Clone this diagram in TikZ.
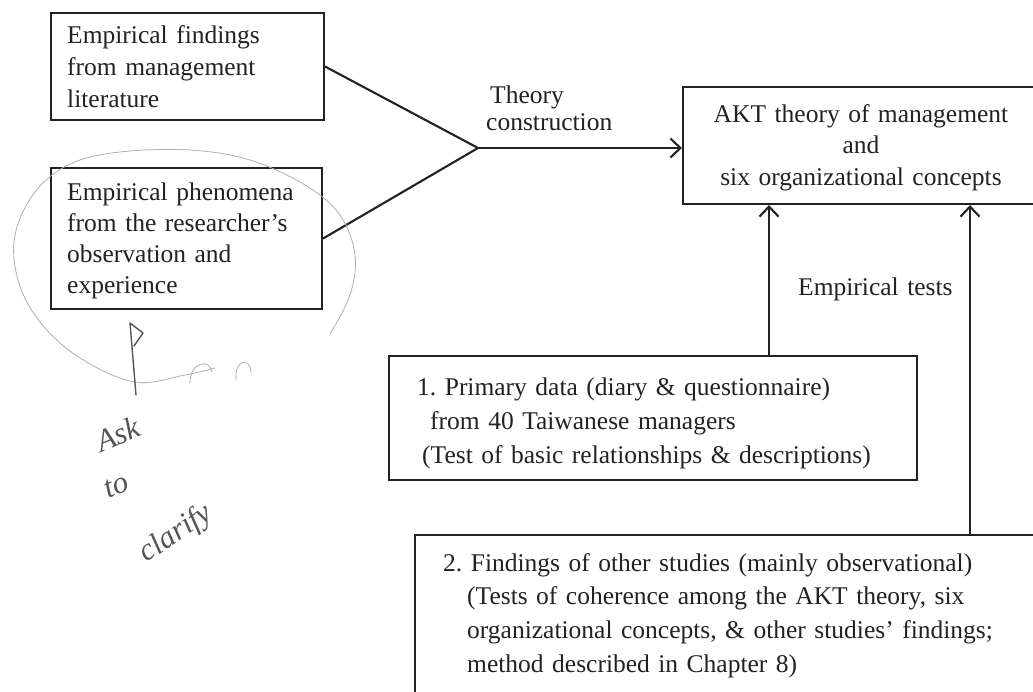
\documentclass[tikz,border=0pt]{standalone}
\usepackage{fontspec}
\setmainfont{Liberation Serif}
\usetikzlibrary{arrows.meta}
\definecolor{ink}{HTML}{222222}
\definecolor{pencil}{HTML}{555555}
\definecolor{pencillight}{HTML}{B0B0B0}
\frenchspacing
\begin{document}
\begin{tikzpicture}[x=1pt,y=-1pt,
  box/.style={draw=ink, line width=2.1pt, rectangle, inner sep=0pt},
  txt/.style={anchor=base west, inner sep=0pt, text=ink, align=left},
  ctxt/.style={anchor=base, inner sep=0pt, text=ink, align=center},
  conn/.style={draw=ink, line width=2.1pt, line join=miter},
  tip/.style={-{Straight Barb[length=10pt,width=19pt,line width=2.1pt]}},
  hand/.style={inner sep=0pt, text=pencil, font=\itshape\fontsize{31}{31}\selectfont},
  pencilline/.style={draw=pencil, line width=1.4pt, line cap=round, line join=round},
  faintline/.style={draw=pencillight, line width=0.8pt, line cap=round}
]
\fill[white] (0,0) rectangle (1033,691);
\clip (0,0) rectangle (1033,691);

% boxes
\node[box, minimum width=273pt, minimum height=107pt] (A) at (187.5,66.5) {};
\node[box, minimum width=271pt, minimum height=141pt] (B) at (186.5,238.5) {};
\node[box, minimum width=356pt, minimum height=117pt] (C) at (861,145.5) {};
\node[box, minimum width=528pt, minimum height=124pt] (P) at (653,418) {};
\node[box, minimum width=630pt, minimum height=190pt] (F) at (730,630) {};

% texts
\node[txt, text width=250pt, font=\fontsize{25.5}{32}\selectfont] (tA) at (67,43)
  {Empirical findings\\from management\\literature};
\node[txt, text width=250pt, font=\fontsize{25.5}{31}\selectfont] (tB) at (67,200)
  {Empirical phenomena\\from the researcher's\\observation and\\experience};
\node[txt, text width=200pt, font=\fontsize{25.5}{27}\selectfont] (tT) at (486,103)
  {\hspace*{4pt}Theory\\construction};
\node[ctxt, text width=356pt, font=\fontsize{25.5}{31.5}\selectfont] (tC) at (861,122)
  {AKT theory of management\\and\\six organizational concepts};
\node[txt, text width=200pt, font=\fontsize{25.5}{30}\selectfont] (tE) at (798,295)
  {Empirical tests};
\node[txt, text width=500pt, font=\fontsize{25.5}{34}\selectfont] (tP) at (417,395)
  {1. Primary data (diary \& questionnaire)\\\hspace*{13pt}from 40 Taiwanese managers\\\hspace*{5pt}(Test of basic relationships \& descriptions)};
\node[txt, text width=600pt, font=\fontsize{25.5}{33.7}\selectfont] (tF) at (443,571)
  {2. Findings of other studies (mainly observational)\\\hspace*{24pt}(Tests of coherence among the AKT theory, six\\\hspace*{24pt}organizational concepts, \& other studies' findings;\\\hspace*{24pt}method described in Chapter 8)};

% connectors
\coordinate (J) at (478,148);
\coordinate (x1) at (769,0);
\coordinate (x2) at (970,0);
\draw[conn] (A.east) -- (J) -- (B.east);
\draw[conn, tip] (J) -- (C.west |- J);
\draw[conn, tip] (P.north -| x1) -- (C.south -| x1);
\draw[conn, tip] (F.north -| x2) -- (C.south -| x2);

% handwritten annotations
\draw[faintline] plot[smooth, tension=0.6] coordinates {(330,334) (350,295) (355,255) (340,215) (305,185) (250,160) (190,150) (120,152) (70,164) (35,192) (15,235) (18,280) (40,322) (80,358) (135,382) (185,375) (215,368)};
\draw[faintline] (190,383) .. controls (190,362) and (210,358) .. (212,372);
\draw[faintline] (236,380) .. controls (234,360) and (250,356) .. (251,372);
\draw[pencilline] (136,395) -- (130,323) -- (143,333) -- (134,346);
\node[hand, rotate=22] (ask) at (118,434) {Ask};
\node[hand, rotate=22] (to) at (116,486) {to};
\node[hand, rotate=34] (clar) at (176,534) {clarify};
\end{tikzpicture}
\end{document}
